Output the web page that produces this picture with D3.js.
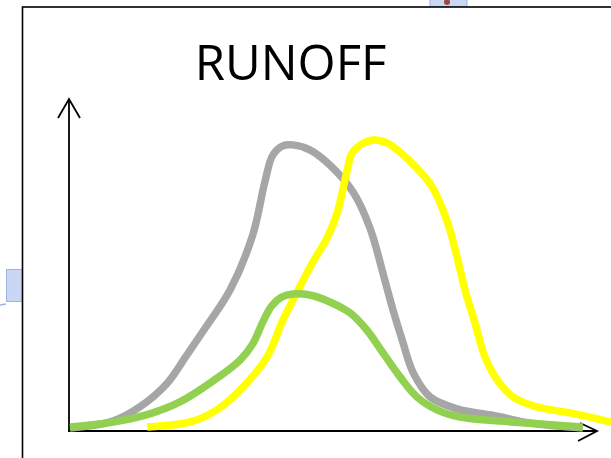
<!DOCTYPE html>
<html>
<head>
<meta charset="utf-8">
<script src="https://cdn.jsdelivr.net/npm/d3@7"></script>
<style>
  html, body { margin: 0; padding: 0; background: #ffffff; }
  svg { display: block; }
</style>
</head>
<body>
<script>
// ---- data (time vs runoff, arbitrary units 0..100) ----
const title = "RUNOFF";

const grayX = [0.2, 8.3, 13.4, 18.6, 22.3, 25.8, 30.5, 34.8, 37.1, 38.6, 40.5, 42.4, 45.6, 49.4, 53.8, 57.0, 59.8, 61.2, 63.1, 65.2, 68.4, 73.5, 81.1, 87.3, 97.3];
const grayY = [0.9, 3.0, 7.3, 14.5, 23.0, 31.2, 42.7, 59.4, 75.5, 83.6, 86.4, 86.7, 85.2, 80.6, 72.4, 61.5, 45.8, 37.6, 27.6, 17.6, 10.3, 6.7, 4.5, 2.4, 0.9];

const yellowX = [14.8, 23.5, 28.0, 32.4, 37.5, 40.5, 43.2, 46.2, 48.9, 50.8, 52.7, 53.6, 55.5, 57.6, 60.2, 62.7, 65.5, 68.8, 71.6, 73.5, 75.0, 76.9, 78.8, 81.1, 84.1, 88.6, 94.9, 102.7];
const yellowY = [1.2, 3.0, 6.4, 12.4, 22.4, 33.6, 42.1, 51.2, 58.5, 66.1, 79.1, 84.2, 87.0, 88.2, 87.3, 84.5, 80.3, 73.9, 63.6, 52.7, 42.7, 32.7, 22.4, 15.5, 10.3, 7.3, 5.5, 2.7];

const greenX = [0.2, 8.3, 15.3, 21.0, 27.3, 32.4, 34.8, 36.7, 38.4, 40.3, 42.4, 45.6, 49.4, 53.2, 56.4, 59.5, 62.7, 65.9, 69.7, 74.1, 81.8, 89.2, 97.3];
const greenY = [1.2, 2.7, 5.2, 8.8, 15.2, 21.5, 26.4, 33.0, 37.9, 40.6, 41.5, 41.2, 39.1, 35.8, 30.6, 23.6, 16.4, 10.3, 6.4, 4.2, 3.0, 2.1, 1.2];

const series = [
  { name: "gray",   xs: grayX,   ys: grayY,   color: "#a6a6a6" },
  { name: "yellow", xs: yellowX, ys: yellowY, color: "#ffff00" },
  { name: "green",  xs: greenX,  ys: greenY,  color: "#92d050" }
];

// ---- layout ----
const W = 611, H = 458;
const svg = d3.select("body").append("svg").attr("width", W).attr("height", H);

const x = d3.scaleLinear().domain([0, 100]).range([69, 597]);
const y = d3.scaleLinear().domain([0, 100]).range([431, 101]);

// slide decorations (partially visible neighbouring shapes)
svg.append("rect").attr("x", 430).attr("y", -4).attr("width", 37).attr("height", 11)
  .attr("fill", "#c9d7f5").attr("stroke", "#9db4e0").attr("stroke-width", 1);
svg.append("circle").attr("cx", 447).attr("cy", 2).attr("r", 3).attr("fill", "#9a4a3a");
svg.append("rect").attr("x", 6.5).attr("y", 269.5).attr("width", 16).attr("height", 32)
  .attr("fill", "#c9d7f5").attr("stroke", "#9db4e0").attr("stroke-width", 1);
svg.append("line").attr("x1", 0).attr("x2", 6).attr("y1", 305).attr("y2", 304)
  .attr("stroke", "#9db4e0").attr("stroke-width", 1.5);

// frame
svg.append("rect").attr("x", 22.5).attr("y", 7).attr("width", 640).attr("height", 500)
  .attr("fill", "#ffffff").attr("stroke", "#000").attr("stroke-width", 1.6);

// title
svg.append("text").attr("x", 290.5).attr("y", 80).attr("text-anchor", "middle")
  .attr("font-family", "'Open Sans', sans-serif").attr("font-size", 49)
  .attr("fill", "#000").text(title);

// axes
const ax = svg.append("g").attr("stroke", "#000").attr("stroke-width", 1.8).attr("fill", "none");
ax.append("line").attr("x1", x(0)).attr("x2", x(0)).attr("y1", y(0) + 1).attr("y2", y(100.6));
ax.append("line").attr("x1", x(0) - 1).attr("x2", x(100)).attr("y1", y(0)).attr("y2", y(0));
ax.append("path").attr("d", `M${x(0) - 11},${y(100.6) + 19} L${x(0)},${y(100.6)} L${x(0) + 11},${y(100.6) + 19}`);
ax.append("path").attr("d", `M${x(100) - 17},${y(0) - 8} L${x(100)},${y(0)} L${x(100) - 19},${y(0) + 10}`);

// curves
const line = d3.line().x(d => x(d[0])).y(d => y(d[1])).curve(d3.curveCatmullRom.alpha(0.5));
svg.append("clipPath").attr("id", "c").append("rect")
  .attr("x", 0).attr("y", 0).attr("width", W).attr("height", H);
svg.append("g").attr("clip-path", "url(#c)")
  .selectAll("path").data(series).join("path")
  .attr("d", s => line(s.xs.map((v, i) => [v, s.ys[i]])))
  .attr("fill", "none").attr("stroke", s => s.color)
  .attr("stroke-width", 7.5).attr("stroke-linejoin", "round").attr("stroke-linecap", "butt");
</script>
</body>
</html>
